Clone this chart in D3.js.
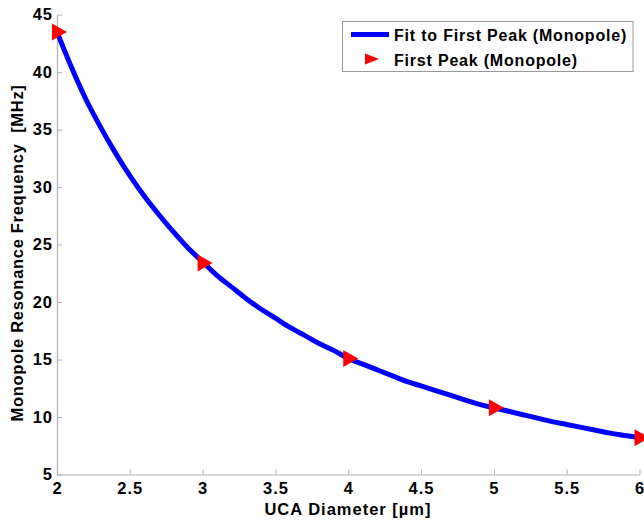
<!DOCTYPE html>
<html>
<head>
<meta charset="utf-8">
<script src="https://cdn.jsdelivr.net/npm/d3@7"></script>
<style>
  body { margin: 0; background: #fff; }
  text { font-family: "Liberation Sans", Arial, sans-serif; font-weight: bold; }
</style>
</head>
<body>
<svg id="chart" width="644" height="521"></svg>
<script>
// Fitted curve
var fitX = [2.0, 2.1, 2.2, 2.3, 2.4, 2.5, 2.6, 2.7, 2.8, 2.9,
            3.0, 3.1, 3.2, 3.3, 3.4, 3.5, 3.6, 3.7, 3.8, 3.9,
            4.0, 4.1, 4.2, 4.3, 4.4, 4.5, 4.6, 4.7, 4.8, 4.9,
            5.0, 5.1, 5.2, 5.3, 5.4, 5.5, 5.6, 5.7, 5.8, 5.9, 6.0];
var fitY = [43.5, 40.4, 37.6, 35.2, 33.0, 31.0, 29.2, 27.6, 26.1, 24.7,
            23.5, 22.3, 21.3, 20.3, 19.4, 18.6, 17.8, 17.1, 16.4, 15.8,
            15.1, 14.6, 14.1, 13.6, 13.1, 12.7, 12.3, 11.9, 11.5, 11.1,
            10.8, 10.5, 10.2, 9.9, 9.6, 9.35, 9.1, 8.85, 8.6, 8.4, 8.2];

// Measured peaks
var peakX = [2, 3, 4, 5, 6];
var peakY = [43.5, 23.4, 15.1, 10.8, 8.2];

var xTicks = [2, 2.5, 3, 3.5, 4, 4.5, 5, 5.5, 6];
var yTicks = [5, 10, 15, 20, 25, 30, 35, 40, 45];

var legendLabels = ["Fit to First Peak (Monopole)", "First Peak (Monopole)"];

var svg = d3.select("svg"),
    margin = {left: 57, right: 4.5, top: 14.7, bottom: 46.5},
    width = +svg.attr("width"),
    height = +svg.attr("height");

var x = d3.scaleLinear().domain([2, 6]).range([margin.left, width - margin.right]);
var y = d3.scaleLinear().domain([5, 45]).range([height - margin.bottom, margin.top]);

// Axes (MATLAB style: ticks point inward)
var xAxis = svg.append("g")
    .attr("transform", "translate(0," + y(5) + ")")
    .call(d3.axisBottom(x).tickValues(xTicks).tickSizeInner(-5).tickSizeOuter(0)
      .tickFormat(d3.format("")).tickPadding(8));
var yAxis = svg.append("g")
    .attr("transform", "translate(" + x(2) + ",0)")
    .call(d3.axisLeft(y).tickValues(yTicks).tickSizeInner(-5).tickSizeOuter(0).tickPadding(4));

[xAxis, yAxis].forEach(function(a) {
  a.select(".domain").attr("stroke", "#b0b0b0").attr("stroke-width", 1.2);
  a.selectAll(".tick line").attr("stroke", "#b0b0b0");
  a.selectAll(".tick text").attr("fill", "#000")
    .style("font-size", "16.5px").style("font-weight", "bold").style("letter-spacing", "1px");
});

// Fit line
var line = d3.line()
    .x(function(d, i) { return x(fitX[i]); })
    .y(function(d) { return y(d); })
    .curve(d3.curveMonotoneX);

svg.append("path")
    .datum(fitY)
    .attr("fill", "none")
    .attr("stroke", "#0000ff")
    .attr("stroke-width", 5)
    .attr("d", line);

// Right-pointing triangle markers
var tri = "M-5,-8.5L-5,8.5L10,0Z";
svg.append("g").selectAll("path")
  .data(peakY)
  .enter().append("path")
    .attr("d", tri)
    .attr("transform", function(d, i) { return "translate(" + x(peakX[i]) + "," + y(d) + ")"; })
    .attr("fill", "#ff0000");

// Axis labels
svg.append("text")
    .attr("x", 348)
    .attr("y", 515)
    .attr("text-anchor", "middle")
    .style("font-size", "16.5px")
    .style("letter-spacing", "1px")
    .text("UCA Diameter [\u00b5m]");

svg.append("text")
    .attr("transform", "translate(23,253) rotate(-90)")
    .attr("text-anchor", "middle")
    .style("font-size", "16.5px")
    .style("letter-spacing", "0.7px")
    .style("white-space", "pre")
    .text("Monopole Resonance Frequency  [MHz]");

// Legend
var lg = svg.append("g");
lg.append("rect")
    .attr("x", 342.5).attr("y", 21.5)
    .attr("width", 290.5).attr("height", 50)
    .attr("fill", "#fff")
    .attr("stroke", "#999");
lg.append("line")
    .attr("x1", 351).attr("x2", 389)
    .attr("y1", 34.5).attr("y2", 34.5)
    .attr("stroke", "#0000ff").attr("stroke-width", 5);
lg.append("path")
    .attr("d", "M-6,-5.5L-6,5.5L8,0Z")
    .attr("transform", "translate(371,59)")
    .attr("fill", "#ff0000");
lg.selectAll("text.lab")
  .data(legendLabels)
  .enter().append("text")
    .attr("class", "lab")
    .attr("x", 394)
    .attr("y", function(d, i) { return 40.7 + i * 25.3; })
    .style("font-size", "16px")
    .style("letter-spacing", "0.8px")
    .text(function(d) { return d; });
</script>
</body>
</html>
